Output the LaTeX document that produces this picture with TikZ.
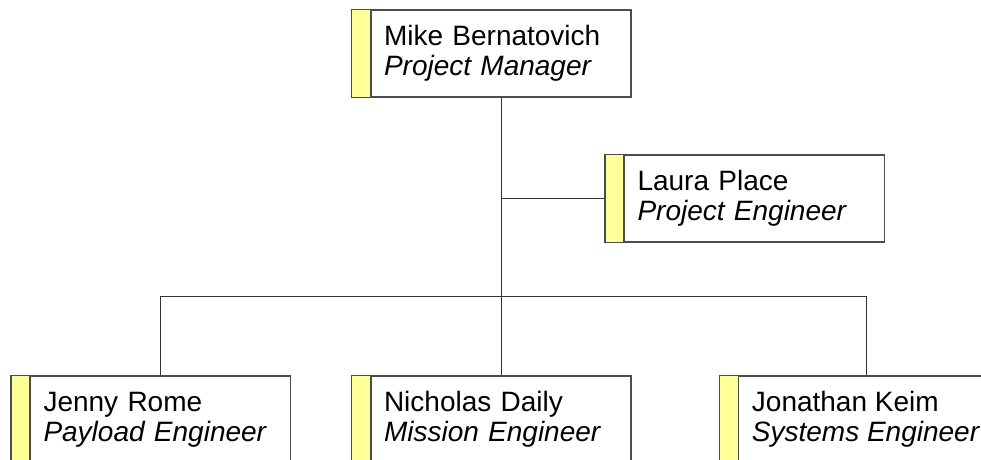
\documentclass[tikz,border=0pt]{standalone}
\usepackage{fontspec}
\setmainfont{Liberation Sans}
\definecolor{stripeyellow}{RGB}{255,255,153}
\begin{document}
\begin{tikzpicture}[
            x = 0.75pt, y = 0.75pt, % one unit is one pixel
            person/.style = {rectangle, draw=black!70, line width=0.8pt, fill=white,
                minimum width=195pt, minimum height=65.25pt, inner xsep=9.75pt,
                text width=175.5pt, align=left,
                font=\fontsize{21}{22.5}\selectfont}, % white part of a box
            stripe/.style = {draw=black!70, line width=0.8pt, fill=stripeyellow},
            link/.style = {draw=black!80, line width=0.75pt},
        ]
        \useasboundingbox (0,0) rectangle (981,460);
        \node[person] (pm) at (501,406.5){Mike Bernatovich\\\textit{Project Manager}};
        \node[person] (lp) at (754.5,261.5){Laura Place\\\textit{Project Engineer}};
        \node[person] (jr) at (160.5,40.5){Jenny Rome\\\textit{Payload Engineer}};
        \node[person] (nd) at (501,40.5){Nicholas Daily\\\textit{Mission Engineer}};
        \node[person, text width={}, minimum width=186pt] (jk) at (866,40.5){Jonathan Keim\\\textit{Systems Engineer}};
        \coordinate (bus) at (0,163);
        % connectors
        \draw[link] (pm.south) to (nd.north);
        \draw[link] (lp.west) to (lp.west -| pm.south);
        \draw[link] (jr.north) -- (jr.north |- bus) -- (jk.north |- bus) -- (jk.north);
        % yellow stripes left of each box
        \foreach \n in {pm, lp, jr, nd, jk}
            \draw[stripe] (\n.north west) rectangle ([xshift=-14.25pt]\n.south west);
        \end{tikzpicture}
\end{document}
